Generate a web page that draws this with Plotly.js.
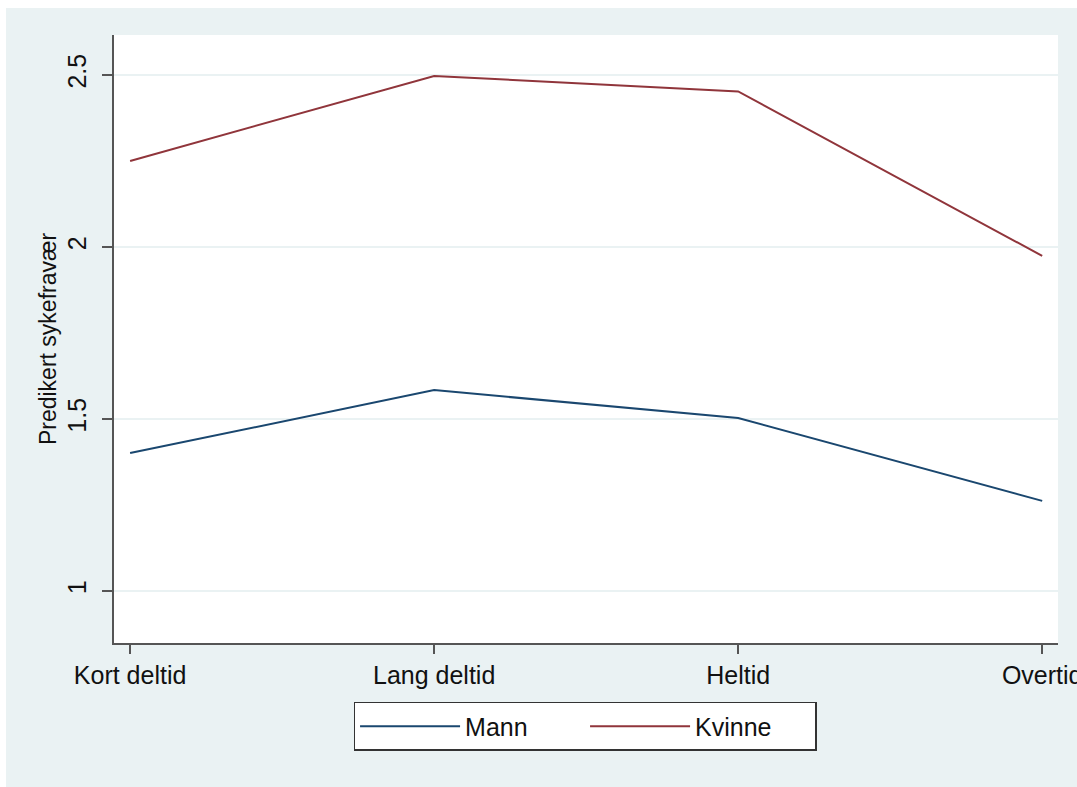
<!DOCTYPE html>
<html>
<head>
<meta charset="utf-8">
<script src="https://cdn.plot.ly/plotly-3.0.1.min.js"></script>
<style>html,body{margin:0;padding:0;background:#fff;}#chart{width:1077px;height:787px;}</style>
</head>
<body>
<div id="chart"></div>
<script>
var categories = ["Kort deltid", "Lang deltid", "Heltid", "Overtid"];
var mannValues = [1.401, 1.584, 1.503, 1.262];
var kvinneValues = [2.25, 2.497, 2.452, 1.974];
var seriesNames = ["Mann", "Kvinne"];
var yTickVals = [1, 1.5, 2, 2.5];
var yTickText = ["1", "1.5", "2", "2.5"];
var yTitle = "Predikert sykefravær";

var font = "Liberation Sans, Arial, Helvetica, sans-serif";

var traces = [
  {x: categories, y: mannValues, name: seriesNames[0], type: "scatter", mode: "lines",
   line: {color: "#1a476f", width: 2}},
  {x: categories, y: kvinneValues, name: seriesNames[1], type: "scatter", mode: "lines",
   line: {color: "#90353b", width: 2}}
];

var layout = {
  width: 1077, height: 787,
  margin: {l: 114, r: 19, t: 35, b: 144},
  paper_bgcolor: "#ffffff",
  plot_bgcolor: "#ffffff",
  font: {family: font, color: "#111111", size: 25},
  showlegend: true,
  legend: {
    orientation: "h", x: 0.499, xanchor: "center", y: -0.097, yanchor: "top",
    bgcolor: "#ffffff", bordercolor: "#333333", borderwidth: 1.5,
    font: {family: font, size: 25, color: "#111111"},
    itemwidth: 100, entrywidth: 115, entrywidthmode: "pixels",
    itemclick: false, itemdoubleclick: false
  },
  xaxis: {
    type: "category", range: [-0.053, 3.052],
    showgrid: false, zeroline: false,
    showline: true, linecolor: "#555555", linewidth: 2,
    ticks: "outside", ticklen: 9, tickcolor: "#555555", tickwidth: 1.5,
    tickfont: {family: font, size: 25, color: "#111111"}
  },
  yaxis: {
    range: [0.849, 2.616],
    tickvals: yTickVals, ticktext: yTickText, tickangle: -90,
    ticklabelstandoff: 6,
    showgrid: true, gridcolor: "#eaf2f3", gridwidth: 2,
    zeroline: false,
    showline: true, linecolor: "#555555", linewidth: 2,
    ticks: "outside", ticklen: 10, tickcolor: "#555555", tickwidth: 1.5,
    tickfont: {family: font, size: 25, color: "#111111"},
    title: {text: yTitle, font: {family: font, size: 23, color: "#111111"}, standoff: 0}
  },
  shapes: [
    {type: "rect", xref: "paper", yref: "paper", layer: "below",
     x0: -0.1144, x1: 1.05, y0: -0.26, y1: 1.0444,
     fillcolor: "#eaf2f3", line: {width: 0}},
    {type: "rect", xref: "paper", yref: "paper", layer: "below",
     x0: 0, x1: 1, y0: 0, y1: 1,
     fillcolor: "#ffffff", line: {width: 0}}
  ]
};

Plotly.newPlot("chart", traces, layout, {staticPlot: true, displayModeBar: false});
</script>
</body>
</html>
